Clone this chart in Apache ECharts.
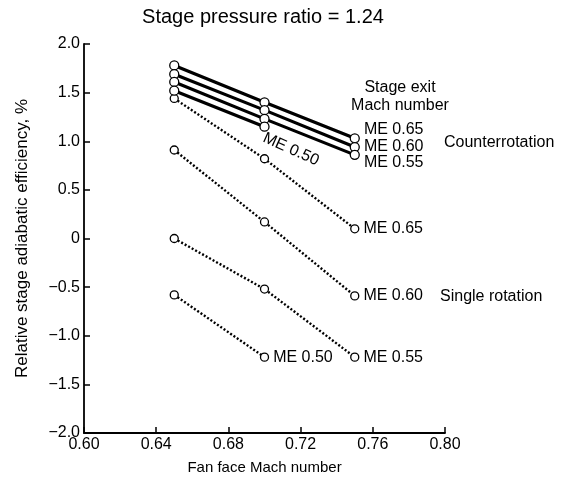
<!DOCTYPE html>
<html>
<head>
<meta charset="utf-8">
<script src="https://cdn.jsdelivr.net/npm/echarts@6/dist/echarts.min.js"></script>
<style>
  html, body { margin: 0; padding: 0; background: #fff; }
  #chart { width: 562px; height: 481px; }
</style>
</head>
<body>
<div id="chart"></div>
<script>
// fan face Mach number at which points were measured
const fanMach = [0.65, 0.70, 0.75];

// counterrotation (solid lines)
const counterNames = ["ME 0.65", "ME 0.60", "ME 0.55", "ME 0.50"];
const counter065 = [1.78, 1.40, 1.03];
const counter060 = [1.69, 1.32, 0.94];
const counter055 = [1.61, 1.23, 0.86];
const counter050 = [1.52, 1.15];

// single rotation (dotted lines)
const singleNames = ["ME 0.65", "ME 0.60", "ME 0.55", "ME 0.50"];
const single065 = [1.44, 0.82, 0.10];
const single060 = [0.91, 0.17, -0.59];
const single055 = [0.00, -0.52, -1.22];
const single050 = [-0.58, -1.22];

const FONT = "Liberation Sans, Arial, Helvetica, sans-serif";
const FS = 16;

function pairs(vals) {
  return vals.map((v, i) => [fanMach[i], v]);
}

// end label offsets for the fanned counterrotation labels
const counterLabelDy = [-9, 0, 8, 0];

function makeSeries(name, vals, solid, labelText, dy, showEnd) {
  const data = pairs(vals).map((p, i) => {
    const d = { value: p };
    if (showEnd && i === vals.length - 1) {
      d.label = {
        show: true, position: "right", distance: 4, offset: [0, dy],
        formatter: labelText, color: "#000", fontSize: FS, fontFamily: FONT
      };
    }
    return d;
  });
  return {
    name, type: "line", data,
    symbol: "circle", symbolSize: solid ? 9 : 8,
    itemStyle: { color: "#fff", borderColor: "#000", borderWidth: 1.3 },
    lineStyle: solid
      ? { color: "#000", width: 3.2, type: "solid" }
      : { color: "#000", width: 2.4, type: [2, 2] },
    label: { show: false },
    z: solid ? 3 : 2,
    animation: false
  };
}

const counterVals = [counter065, counter060, counter055, counter050];
const singleVals = [single065, single060, single055, single050];

const series = [];
counterVals.forEach((v, i) => {
  series.push(makeSeries("C " + counterNames[i], v, true, counterNames[i], counterLabelDy[i], i < 3));
});
singleVals.forEach((v, i) => {
  series.push(makeSeries("S " + singleNames[i], v, false, singleNames[i], 0, true));
});

const chart = echarts.init(document.getElementById("chart"), null, { renderer: "canvas" });

chart.setOption({
  animation: false,
  backgroundColor: "#fff",
  grid: { left: 84, right: 117, top: 44, bottom: 48 },
  xAxis: {
    type: "value", min: 0.6, max: 0.8, interval: 0.04,
    name: "Fan face Mach number", nameLocation: "middle", nameGap: 27,
    nameTextStyle: { color: "#000", fontSize: 15, fontFamily: FONT },
    axisLine: { onZero: false, lineStyle: { color: "#000", width: 1.8 } },
    axisTick: { inside: true, length: 6, lineStyle: { color: "#000", width: 1.5 } },
    axisLabel: { color: "#000", fontSize: FS, fontFamily: FONT, margin: 4,
      formatter: (v) => v.toFixed(2) },
    splitLine: { show: false }
  },
  yAxis: {
    type: "value", min: -2, max: 2, interval: 0.5,
    name: "Relative stage adiabatic efficiency, %", nameLocation: "middle", nameGap: 53,
    nameRotate: 90,
    nameTextStyle: { color: "#000", fontSize: 17, fontFamily: FONT },
    axisLine: { show: true, onZero: false, lineStyle: { color: "#000", width: 1.8 } },
    axisTick: { show: true, inside: true, length: 6, lineStyle: { color: "#000", width: 1.5 } },
    axisLabel: { color: "#000", fontSize: FS, fontFamily: FONT, margin: 4,
      formatter: (v) => v === 0 ? "0" : (v < 0 ? "\u2212" + Math.abs(v).toFixed(1) : v.toFixed(1)) },
    splitLine: { show: false }
  },
  graphic: [
    { type: "text", x: 263, y: 7,
      style: { text: "Stage pressure ratio = 1.24", fill: "#000", fontSize: 20, fontFamily: FONT,
        align: "center" } },
    { type: "text", x: 400, y: 79,
      style: { text: "Stage exit\nMach number", fill: "#000", fontSize: FS, fontFamily: FONT,
        align: "center", lineHeight: 18 } },
    { type: "text", x: 444, y: 135,
      style: { text: "Counterrotation", fill: "#000", fontSize: FS, fontFamily: FONT } },
    { type: "text", x: 440, y: 289,
      style: { text: "Single rotation", fill: "#000", fontSize: FS, fontFamily: FONT } },
    { type: "text", x: 267, y: 130, rotation: -0.42,
      style: { text: "ME 0.50", fill: "#000", fontSize: FS, fontFamily: FONT } }
  ],
  series
});
</script>
</body>
</html>
